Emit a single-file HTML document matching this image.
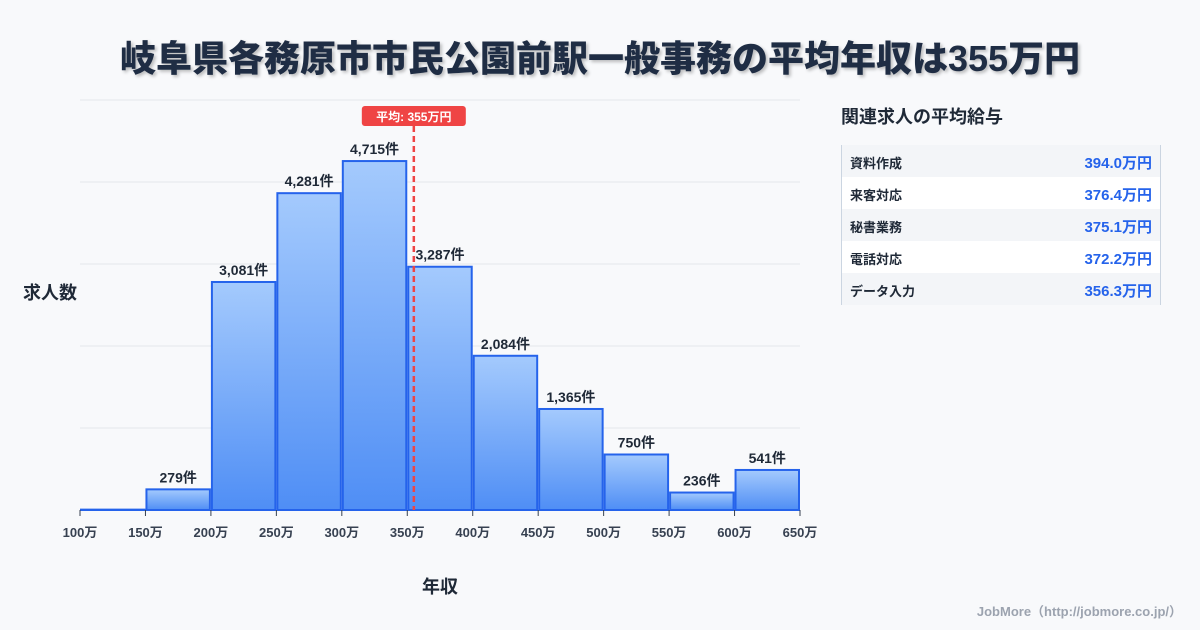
<!DOCTYPE html>
<html><head><meta charset="utf-8"><style>
body{margin:0;width:1200px;height:630px;background:#f8f9fb;font-family:"Liberation Sans","Noto Sans CJK JP",sans-serif;overflow:hidden;position:relative}
.title{position:absolute;left:0;width:1200px;top:30px;text-align:center;font-size:36px;font-weight:900;color:#1f2d44;text-shadow:2px 2px 3px rgba(0,0,0,0.25)}
.side{position:absolute;left:841px;top:103px;font-size:18px;font-weight:700;color:#1f2937}
table{position:absolute;left:841px;top:145px;width:320px;border-collapse:collapse;border-left:1px solid #cbd5e1;border-right:1px solid #cbd5e1}
td{height:32px;padding:2px 8px 0 8px;font-size:13px;font-weight:700;color:#1f2937;box-sizing:border-box}
td.v{text-align:right;color:#2563eb;font-size:15px}
tr:nth-child(odd){background:#f3f5f8}tr:nth-child(even){background:#fff}
.foot{position:absolute;right:18px;top:601px;font-size:13px;font-weight:700;color:#9ca3af}
</style></head><body>
<div class="title">岐阜県各務原市市民公園前駅一般事務の平均年収は355万円</div>
<svg width="1200" height="630" style="position:absolute;left:0;top:0">
<defs><linearGradient id="g" x1="0" y1="0" x2="0" y2="1"><stop offset="0" stop-color="#a4cafd"/><stop offset="1" stop-color="#4f8ef5"/></linearGradient></defs>
<g id="grid"></g><g id="bars"></g><g id="xt"></g>
<text x="50" y="299" text-anchor="middle" font-size="18" font-weight="700" fill="#1f2937">求人数</text>
<text x="440" y="593" text-anchor="middle" font-size="18" font-weight="700" fill="#1f2937">年収</text>
<g id="avg"></g>
</svg>
<div class="side">関連求人の平均給与</div>
<table>
<tr><td>資料作成</td><td class="v">394.0万円</td></tr>
<tr><td>来客対応</td><td class="v">376.4万円</td></tr>
<tr><td>秘書業務</td><td class="v">375.1万円</td></tr>
<tr><td>電話対応</td><td class="v">372.2万円</td></tr>
<tr><td>データ入力</td><td class="v">356.3万円</td></tr>
</table>
<div class="foot">JobMore（http://jobmore.co.jp/）</div>
<script>
const binStarts=[100,150,200,250,300,350,400,450,500,550,600];
const counts=[5,279,3081,4281,4715,3287,2084,1365,750,236,541];
const tickLabels=[100,150,200,250,300,350,400,450,500,550,600,650];
const avgValue=355;
const binWidth=50, yMax=5540;
const NS="http://www.w3.org/2000/svg";
const X=v=>80+(v-100)*720/550, Y=v=>510-v*410/yMax;
function mk(t,a,p){const e=document.createElementNS(NS,t);for(const k in a)e.setAttribute(k,a[k]);p.appendChild(e);return e;}
const grid=document.getElementById('grid');
for(let i=0;i<=5;i++){const l=mk('line',{x1:80,x2:800,y1:510-i*82,y2:510-i*82,stroke:'#e5e7eb','stroke-width':1},grid);

}
const bars=document.getElementById('bars');
binStarts.forEach((s,i)=>{const x0=X(s)+1,x1=X(s+binWidth)-1,y=Y(counts[i]);
const r=mk('rect',{x:x0,y:y,width:x1-x0,height:510-y,fill:'url(#g)',stroke:'#2563eb','stroke-width':2},bars);


if(counts[i]>50){const t=mk('text',{x:(x0+x1)/2,y:y-7,'text-anchor':'middle','font-size':14,'font-weight':700,fill:'#1f2937'},bars);t.textContent=counts[i].toLocaleString('en-US')+'件';

}});
const xt=document.getElementById('xt');
tickLabels.forEach(v=>{mk('line',{x1:X(v),x2:X(v),y1:510,y2:516,stroke:'#374151'},xt);
const t=mk('text',{x:X(v),y:537,'text-anchor':'middle','font-size':13,'font-weight':700,fill:'#374151'},xt);t.textContent=v+'万';

});
const av=document.getElementById('avg'),ax=X(avgValue);
const l=mk('line',{x1:ax,x2:ax,y1:126,y2:510,stroke:'#ef4444','stroke-width':2.5,'stroke-dasharray':'6,4'},av);


mk('rect',{x:ax-52,y:106,width:104,height:20,rx:3,fill:'#ef4444'},av);
const t=mk('text',{x:ax,y:121,'text-anchor':'middle','font-size':12,'font-weight':700,fill:'#fff'},av);t.textContent='平均: '+avgValue+'万円';


</script>
</body></html>
